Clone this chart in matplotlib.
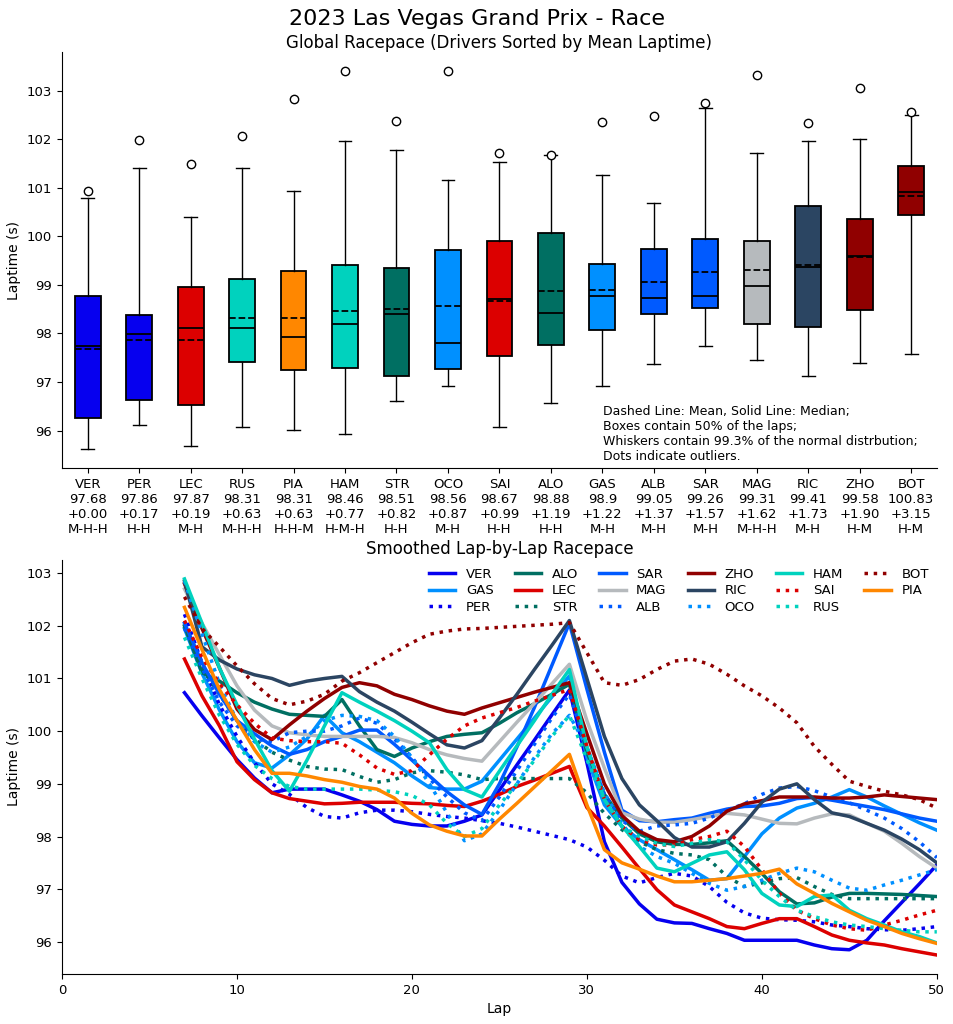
import matplotlib
matplotlib.use("Agg")
import matplotlib.pyplot as plt

# ---------------- data: box plot (top) ----------------
drivers = ["VER", "PER", "LEC", "RUS", "PIA", "HAM", "STR", "OCO", "SAI",
           "ALO", "GAS", "ALB", "SAR", "MAG", "RIC", "ZHO", "BOT"]
mean_labels = [97.68, 97.86, 97.87, 98.31, 98.31, 98.46, 98.51, 98.56, 98.67,
               98.88, 98.9, 99.05, 99.26, 99.31, 99.41, 99.58, 100.83]
delta_labels = [0.00, 0.17, 0.19, 0.63, 0.63, 0.77, 0.82, 0.87, 0.99,
                1.19, 1.22, 1.37, 1.57, 1.62, 1.73, 1.90, 3.15]
compounds = ["M-H-H", "H-H", "M-H", "M-H-H", "H-H-M", "H-M-H", "H-H", "M-H", "H-H",
             "H-H", "M-H", "M-H", "M-H", "M-H-H", "M-H", "H-M", "H-M"]
box_colors = ["#0600EF", "#0600EF", "#DC0000", "#00D2BE", "#FF8700", "#00D2BE",
              "#006F62", "#0090FF", "#DC0000", "#006F62", "#0090FF", "#005AFF",
              "#005AFF", "#B6BABD", "#2B4562", "#900000", "#900000"]
box_whislo = [95.62, 96.12, 95.68, 96.07, 96.02, 95.94, 96.60, 96.91, 96.07,
              96.57, 96.92, 97.37, 97.75, 97.46, 97.12, 97.39, 97.57]
box_q1 = [96.25, 96.62, 96.53, 97.41, 97.24, 97.28, 97.13, 97.27, 97.54,
          97.77, 98.07, 98.40, 98.52, 98.19, 98.14, 98.48, 100.44]
box_med = [97.75, 97.98, 98.12, 98.12, 97.92, 98.20, 98.40, 97.81, 98.70,
           98.43, 98.77, 98.73, 98.77, 98.98, 99.36, 99.59, 100.91]
box_mean = [97.68, 97.86, 97.87, 98.31, 98.31, 98.46, 98.51, 98.56, 98.67,
            98.88, 98.90, 99.05, 99.26, 99.31, 99.41, 99.58, 100.83]
box_q3 = [98.77, 98.39, 98.96, 99.12, 99.28, 99.40, 99.34, 99.72, 99.90,
          100.07, 99.43, 99.74, 99.95, 99.91, 100.62, 100.36, 101.45]
box_whishi = [100.79, 101.40, 100.40, 101.41, 100.93, 101.97, 101.78, 101.15, 101.53,
              101.68, 101.26, 100.69, 102.64, 101.71, 101.96, 102.01, 102.49]
box_fliers = [[100.93], [101.99], [101.49], [102.06], [102.83], [103.40], [102.37],
              [103.40], [101.71], [101.68], [102.35], [102.48], [102.74], [103.32],
              [102.33], [103.06], [102.55]]

# ---------------- data: smoothed lap-by-lap (bottom) ----------------
laps = list(range(7, 51))
line_drivers = ["VER", "GAS", "PER", "ALO", "LEC", "STR", "SAR", "MAG", "ALB",
                "ZHO", "RIC", "OCO", "HAM", "SAI", "RUS", "BOT", "PIA"]
line_colors = ["#0600EF", "#0090FF", "#0600EF", "#006F62", "#DC0000", "#006F62",
               "#005AFF", "#B6BABD", "#005AFF", "#900000", "#2B4562", "#0090FF",
               "#00D2BE", "#DC0000", "#00D2BE", "#900000", "#FF8700"]
line_styles = ["-", "-", ":", "-", "-", ":", "-", "-", ":",
               "-", "-", ":", "-", ":", ":", ":", "-"]

VER = [100.73, 100.29, 99.87, 99.46, 99.11, 98.83, 98.9, 98.9, 98.9, 98.79,
       98.67, 98.51, 98.29, 98.23, 98.2, 98.2, 98.29, 98.41, 98.88, 99.36,
       99.83, 100.31, 100.78, 99.4, 97.9, 97.13, 96.72, 96.43, 96.36, 96.35,
       96.25, 96.16, 96.03, 96.03, 96.03, 96.03, 95.94, 95.87, 95.85, 96.03,
       96.4, 96.75, 97.1, 97.46]
GAS = [101.95, 101.1, 100.4, 99.8, 99.4, 99.3, 99.55, 99.85, 100.3, 99.97,
       99.8, 99.6, 99.4, 99.15, 98.93, 98.9, 98.9, 99.05, 99.45, 99.85,
       100.25, 100.65, 101.05, 99.5, 98.6, 98.19, 97.94, 97.75, 97.56, 97.37,
       97.17, 97.2, 97.62, 98.05, 98.35, 98.54, 98.63, 98.75, 98.89, 98.75,
       98.58, 98.42, 98.26, 98.12]
PER = [102.22, 101.3, 100.5, 99.9, 99.4, 99.0, 98.8, 98.55, 98.38, 98.35,
       98.45, 98.5, 98.5, 98.47, 98.42, 98.38, 98.35, 98.3, 98.25, 98.18,
       98.1, 98.02, 97.94, 97.8, 97.55, 97.25, 97.12, 97.22, 97.3, 97.25,
       97.05, 96.75, 96.55, 96.45, 96.42, 96.41, 96.38, 96.32, 96.29, 96.25,
       96.23, 96.22, 96.25, 96.29]
ALO = [102.0, 101.11, 100.95, 100.73, 100.55, 100.42, 100.32, 100.3, 100.28, 100.6,
       100.1, 99.65, 99.52, 99.68, 99.8, 99.9, 99.94, 99.97, 100.15, 100.35,
       100.52, 100.7, 100.89, 99.6, 98.8, 98.35, 98.05, 97.9, 97.85, 97.85,
       97.88, 97.92, 97.62, 97.3, 96.95, 96.72, 96.74, 96.85, 96.92, 96.92,
       96.91, 96.9, 96.88, 96.86]
LEC = [101.37, 100.67, 100.1, 99.42, 99.08, 98.83, 98.72, 98.67, 98.62, 98.63,
       98.65, 98.65, 98.65, 98.63, 98.62, 98.59, 98.57, 98.67, 98.8, 98.95,
       99.07, 99.2, 99.33, 98.55, 98.2, 97.8, 97.39, 96.99, 96.7, 96.57,
       96.44, 96.29, 96.25, 96.35, 96.44, 96.44, 96.29, 96.13, 96.03, 95.98,
       95.94, 95.87, 95.81, 95.75]
STR = [102.0, 101.2, 100.7, 100.2, 99.85, 99.6, 99.45, 99.33, 99.28, 99.27,
       99.14, 99.03, 99.08, 99.21, 99.25, 99.22, 99.17, 99.08, 99.1, 99.1,
       99.1, 99.1, 99.1, 98.83, 98.44, 98.13, 97.9, 97.75, 97.68, 97.65,
       97.56, 97.24, 97.05, 97.12, 97.2, 97.22, 97.05, 96.9, 96.82, 96.82,
       96.82, 96.82, 96.82, 96.82]
SAR = [102.05, 101.3, 100.7, 100.2, 99.95, 99.72, 99.56, 99.65, 99.8, 99.9,
       100.02, 100.02, 99.75, 99.45, 99.15, 98.85, 98.6, 98.42, 99.0, 99.7,
       100.45, 101.25, 102.05, 100.8, 99.6, 98.5, 98.3, 98.28, 98.32, 98.35,
       98.44, 98.52, 98.57, 98.58, 98.63, 98.72, 98.74, 98.69, 98.63, 98.57,
       98.51, 98.43, 98.35, 98.29]
MAG = [102.7, 102.05, 101.45, 100.86, 100.4, 100.1, 99.97, 99.93, 99.9, 99.9,
       99.9, 99.9, 99.88, 99.78, 99.65, 99.55, 99.48, 99.43, 99.8, 100.17,
       100.53, 100.9, 101.27, 100.2, 99.3, 98.45, 98.33, 98.27, 98.27, 98.32,
       98.38, 98.44, 98.41, 98.33, 98.25, 98.24, 98.35, 98.43, 98.41, 98.25,
       98.1, 97.87, 97.62, 97.4]
ALB = [101.95, 101.2, 100.55, 100.1, 99.85, 99.8, 99.97, 100.0, 100.0, 100.1,
       100.25, 100.15, 99.85, 99.5, 99.1, 98.75, 98.45, 98.3, 98.75, 99.25,
       99.75, 100.25, 100.7, 99.7, 98.8, 98.3, 98.1, 98.2, 98.22, 98.25,
       98.35, 98.5, 98.62, 98.8, 98.92, 98.95, 98.87, 98.75, 98.64, 98.5,
       98.35, 98.15, 97.9, 97.6]
ZHO = [102.8, 101.95, 101.2, 100.42, 100.03, 99.84, 100.12, 100.38, 100.62, 100.83,
       100.92, 100.86, 100.7, 100.6, 100.48, 100.38, 100.32, 100.44, 100.54, 100.64,
       100.74, 100.83, 100.92, 99.95, 99.0, 98.4, 98.1, 97.94, 97.9, 98.0,
       98.2, 98.48, 98.62, 98.68, 98.75, 98.75, 98.75, 98.73, 98.73, 98.75,
       98.79, 98.76, 98.73, 98.7]
RIC = [102.85, 101.6, 101.35, 101.18, 101.07, 101.0, 100.87, 100.95, 101.0, 101.04,
       100.75, 100.55, 100.38, 100.17, 99.95, 99.74, 99.68, 99.82, 100.25, 100.7,
       101.17, 101.63, 102.1, 101.0, 99.9, 99.1, 98.6, 98.3, 97.98, 97.8,
       97.8, 97.9, 98.25, 98.65, 98.9, 99.0, 98.7, 98.45, 98.38, 98.25,
       98.12, 97.95, 97.75, 97.5]
OCO = [102.85, 101.85, 100.9, 100.2, 99.8, 99.6, 99.7, 99.9, 100.2, 100.3,
       100.28, 100.2, 99.9, 99.5, 99.0, 98.45, 97.92, 98.05, 98.5, 99.0,
       99.5, 99.95, 100.3, 99.7, 98.83, 98.25, 97.81, 97.62, 97.49, 97.3,
       97.11, 96.98, 97.05, 97.17, 97.3, 97.4, 97.33, 97.17, 97.02, 96.98,
       97.08, 97.17, 97.27, 97.37]
HAM = [102.89, 102.05, 101.2, 100.5, 99.85, 99.25, 98.86, 99.45, 100.1, 100.73,
       100.55, 100.38, 100.2, 100.0, 99.78, 99.27, 98.89, 98.75, 99.24, 99.72,
       100.2, 100.7, 101.17, 99.7, 98.7, 98.2, 97.81, 97.4, 97.33, 97.49,
       97.65, 97.71, 97.37, 96.92, 96.7, 96.67, 96.86, 96.89, 96.6, 96.44,
       96.32, 96.19, 96.1, 95.98]
SAI = [102.1, 101.4, 100.9, 100.5, 100.15, 99.87, 99.82, 99.8, 99.8, 99.77,
       99.55, 99.3, 99.18, 99.25, 99.55, 99.85, 100.1, 100.25, 100.35, 100.45,
       100.57, 100.68, 100.79, 99.71, 98.7, 98.19, 97.94, 97.84, 97.84, 97.94,
       98.0, 98.1, 97.81, 97.37, 96.92, 96.6, 96.44, 96.32, 96.25, 96.22,
       96.32, 96.41, 96.51, 96.6]
RUS = [101.78, 101.0, 100.3, 99.75, 99.35, 99.1, 98.95, 98.9, 98.9, 98.9,
       98.9, 98.88, 98.85, 98.78, 98.6, 98.25, 98.0, 98.15, 98.6, 99.0,
       99.45, 99.9, 100.3, 99.46, 98.7, 98.19, 98.0, 97.87, 97.81, 97.87,
       97.94, 97.9, 97.56, 97.17, 96.86, 96.6, 96.48, 96.38, 96.32, 96.29,
       96.25, 96.22, 96.19, 96.19]
BOT = [102.55, 101.95, 101.6, 101.24, 100.9, 100.62, 100.5, 100.57, 100.7, 100.95,
       101.11, 101.3, 101.49, 101.68, 101.84, 101.9, 101.94, 101.95, 101.97, 101.99,
       102.01, 102.03, 102.06, 101.49, 100.92, 100.87, 100.98, 101.17, 101.33, 101.37,
       101.27, 101.08, 100.86, 100.67, 100.44, 100.16, 99.71, 99.37, 99.05, 98.95,
       98.86, 98.79, 98.7, 98.54]
PIA = [102.35, 101.55, 100.79, 100.2, 99.65, 99.2, 99.2, 99.15, 99.08, 99.03,
       98.95, 98.9, 98.73, 98.44, 98.22, 98.1, 98.01, 98.01, 98.33, 98.63,
       98.94, 99.25, 99.56, 98.6, 97.75, 97.5, 97.38, 97.25, 97.14, 97.14,
       97.17, 97.2, 97.25, 97.3, 97.38, 97.1, 96.92, 96.73, 96.57, 96.41,
       96.29, 96.16, 96.06, 95.97]

line_values = [VER, GAS, PER, ALO, LEC, STR, SAR, MAG, ALB,
               ZHO, RIC, OCO, HAM, SAI, RUS, BOT, PIA]

# ---------------- figure ----------------
fig = plt.figure(figsize=(9.54, 10.24), dpi=100)
fig.suptitle("2023 Las Vegas Grand Prix - Race", fontsize=16, y=0.9815, va="center")

ax1 = fig.add_axes([0.065, 0.543, 0.917, 0.406])
ax2 = fig.add_axes([0.065, 0.049, 0.917, 0.404])

# top: box plot
stats = []
for i, d in enumerate(drivers):
    stats.append(dict(label=d, whislo=box_whislo[i], q1=box_q1[i], med=box_med[i],
                      mean=box_mean[i], q3=box_q3[i], whishi=box_whishi[i],
                      fliers=box_fliers[i]))
positions = list(range(1, len(drivers) + 1))
bp = ax1.bxp(stats, positions=positions, widths=0.5, patch_artist=True,
             showmeans=True, meanline=True, showfliers=True,
             boxprops=dict(edgecolor="black", linewidth=1.3),
             medianprops=dict(color="black", linewidth=1.3),
             meanprops=dict(color="black", linestyle="--", linewidth=1.3),
             whiskerprops=dict(color="black", linewidth=1.0),
             capprops=dict(color="black", linewidth=1.0),
             flierprops=dict(marker="o", markerfacecolor="white",
                             markeredgecolor="black", markersize=6))
for patch, c in zip(bp["boxes"], box_colors):
    patch.set_facecolor(c)

labels = [f"{d}\n{m}\n+{dl:.2f}\n{c}" for d, m, dl, c in
          zip(drivers, mean_labels, delta_labels, compounds)]
ax1.set_xticks(positions)
ax1.set_xticklabels(labels, fontsize=9.5)
ax1.set_xlim(0.5, len(drivers) + 0.5)
ax1.set_ylabel("Laptime (s)", fontsize=10)
ax1.tick_params(axis="y", labelsize=9.5)
ax1.set_title("Global Racepace (Drivers Sorted by Mean Laptime)", fontsize=12, pad=2.5)
ax1.text(0.618, 0.012,
         "Dashed Line: Mean, Solid Line: Median;\nBoxes contain 50% of the laps;\n"
         "Whiskers contain 99.3% of the normal distrbution;\nDots indicate outliers.",
         transform=ax1.transAxes, fontsize=9, ha="left", va="bottom")
for s in ("top", "right"):
    ax1.spines[s].set_visible(False)

# bottom: smoothed lines
for d, vals, col, ls in zip(line_drivers, line_values, line_colors, line_styles):
    ax2.plot(laps, vals, color=col, linestyle=ls, linewidth=2.5, label=d)
ax2.set_xlim(0, 50)
ax2.set_xlabel("Lap", fontsize=10)
ax2.set_ylabel("Laptime (s)", fontsize=10)
ax2.tick_params(labelsize=9.5)
ax2.set_title("Smoothed Lap-by-Lap Racepace", fontsize=12, pad=4.5)
ax2.legend(ncol=6, loc="upper right", frameon=False, fontsize=9.5,
           borderaxespad=0.2, columnspacing=1.6, handlelength=2.0,
           labelspacing=0.25)
for s in ("top", "right"):
    ax2.spines[s].set_visible(False)

fig.savefig("out.png", dpi=100)
